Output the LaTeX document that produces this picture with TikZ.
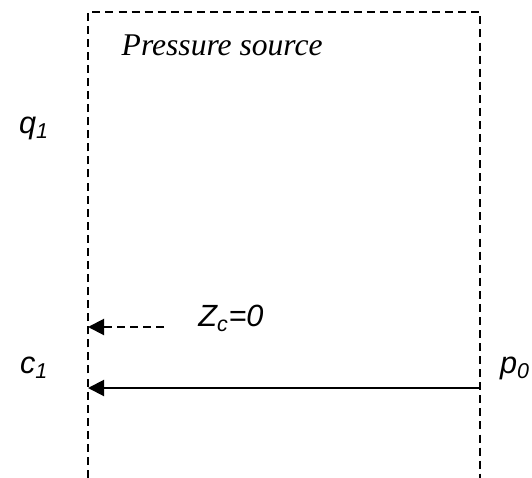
\documentclass[tikz,border=0pt]{standalone}
\usepackage{fontspec}
\setmainfont{Liberation Serif}
\setsansfont{Liberation Sans}
\usetikzlibrary{arrows.meta}
\tikzset{
  boundary/.style={dash pattern=on 6pt off 3.8pt, line width=1.5pt},
  flow/.style={line width=1.5pt, -{Triangle[length=12pt,width=12pt]}},
  varlabel/.style={font=\sffamily\itshape\fontsize{23}{26}\selectfont},
}
\begin{document}
\begin{tikzpicture}[x=0.75pt,y=-0.75pt]
\useasboundingbox (0,0) rectangle (532,478);
% source boundary, open at the bottom
\draw[boundary] (88,478) -- (88,12) -- (480,12) -- (480,478);
\node[font=\itshape\fontsize{23.7}{26}\selectfont,anchor=west] (title) at (117,45) {Pressure source};
% port variables
\node[varlabel] (q1) at (34,128) {q\textsubscript{1}};
\node[varlabel] (c1) at (34,368) {c\textsubscript{1}};
\node[varlabel] (p0) at (515,368) {p\textsubscript{0}};
\node[varlabel] (zc) at (231,318) {Z\textsubscript{c}=0};
% connectors
\coordinate (zcstart) at (164,327);
\coordinate (zcend) at (88,327);
\coordinate (pstart) at (480,388);
\coordinate (pend) at (88,388);
\draw[flow,dash pattern=on 6pt off 3.8pt] (zcstart) -- (zcend);
\draw[flow] (pstart) -- (pend);
\end{tikzpicture}
\end{document}
